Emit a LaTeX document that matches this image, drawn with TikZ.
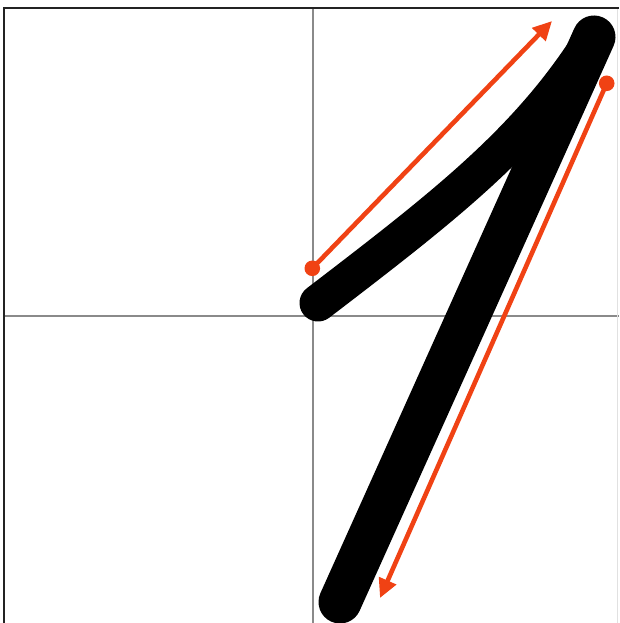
\documentclass[tikz,border=0pt]{standalone}
\usetikzlibrary{arrows.meta}
\definecolor{strokeorange}{RGB}{240,66,20}
\definecolor{gridgray}{RGB}{138,138,138}
\definecolor{framedark}{RGB}{35,35,35}
\definecolor{framelight}{RGB}{225,225,225}
\tikzset{
  gridline/.style={draw=gridgray, line width=1.3pt},
  frameline/.style={draw=framedark, line width=2.4pt},
  inkstroke/.style={draw=black, line cap=round, line join=round},
  guidearrow/.style={draw=strokeorange, line width=4.6pt, -{Triangle[length=19pt,width=18pt]}},
  guidedot/.style={fill=strokeorange},
}
\begin{document}
\begin{tikzpicture}[x=1pt,y=-1pt]
  \useasboundingbox (0,0) rectangle (619,623);
  \fill[white] (0,0) rectangle (619,623);
  % grid
  \draw[gridline] (313,8) -- (313,623);
  \draw[gridline] (4,316) -- (619,316);
  % frame
  \draw[draw=framelight, line width=1pt] (617.5,8) -- (617.5,623);
  \draw[frameline] (4,623) -- (4,8) -- (619,8);
  % ink strokes of the digit
  \coordinate (s0) at (318,303);
  \coordinate (top) at (594,37);
  \coordinate (bot) at (340,602);
  \draw[inkstroke, line width=37pt] (s0) .. controls (446,205) and (530,140) .. (top);
  \draw[inkstroke, line width=43pt] (top) -- (bot);
  % guide arrows
  \coordinate (a1s) at (312.3,268.3);
  \coordinate (a1e) at (552,21);
  \coordinate (a2s) at (606.7,83.3);
  \coordinate (a2e) at (380,598);
  \draw[guidearrow] (a1s) -- (a1e);
  \fill[guidedot] (a1s) circle (7.8pt);
  \draw[guidearrow] (a2s) -- (a2e);
  \fill[guidedot] (a2s) circle (7.8pt);
\end{tikzpicture}
\end{document}
